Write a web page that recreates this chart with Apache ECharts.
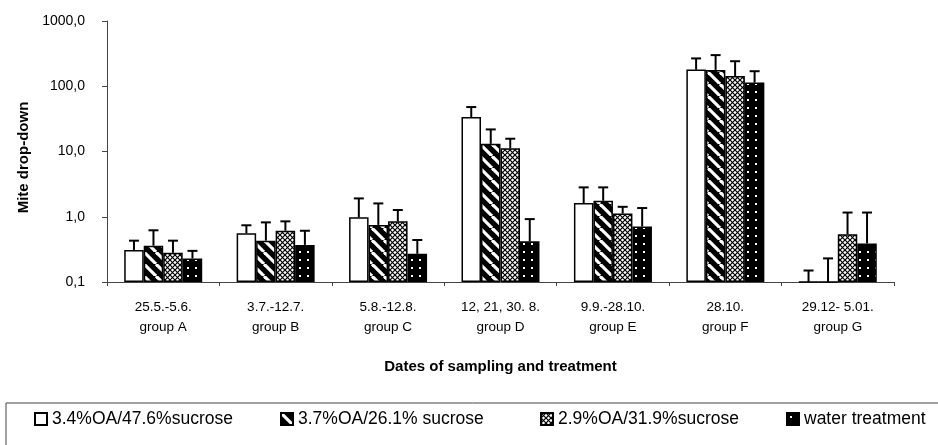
<!DOCTYPE html>
<html>
<head>
<meta charset="utf-8">
<script src="https://cdn.jsdelivr.net/npm/echarts@6/dist/echarts.min.js"></script>
<style>
html, body { margin: 0; padding: 0; background: #fff; }
#chart { width: 938px; height: 445px; }
</style>
</head>
<body>
<div id="chart"></div>
<script>
//横坐标分类
var categories = ['25.5.-5.6.\ngroup A', '3.7.-12.7.\ngroup B', '5.8.-12.8.\ngroup C',
	'12, 21, 30. 8.\ngroup D', '9.9.-28.10.\ngroup E', '28.10.\ngroup F', '29.12- 5.01.\ngroup G'];
//图例名称
var seriesNames = ['3.4%OA/47.6%sucrose', '3.7%OA/26.1% sucrose', '2.9%OA/31.9%sucrose', 'water treatment'];
//柱高 (均值)
var oa34Values = [0.31, 0.56, 0.98, 33.7, 1.62, 180, 0.1];
var oa37Values = [0.36, 0.43, 0.75, 13.1, 1.76, 178, 0.1];
var oa29Values = [0.28, 0.61, 0.85, 11.2, 1.12, 143, 0.54];
var waterValues = [0.23, 0.37, 0.27, 0.42, 0.71, 114, 0.39];
//误差线上端
var oa34Upper = [0.43, 0.74, 1.91, 48, 2.82, 267, 0.15];
var oa37Upper = [0.62, 0.82, 1.60, 21.8, 2.82, 300, 0.23];
var oa29Upper = [0.43, 0.85, 1.27, 15.7, 1.42, 242, 1.16];
var waterUpper = [0.30, 0.61, 0.44, 0.92, 1.36, 170, 1.16];
//纵坐标刻度
var yTicks = [0.1, 1, 10, 100, 1000];

var BAR_W = 19.5;
var FONT = '"Liberation Sans", Arial, sans-serif';

//填充图案
function makeTile(size, draw) {
	var c = document.createElement('canvas');
	c.width = size;
	c.height = size;
	draw(c.getContext('2d'), size);
	return { image: c, repeat: 'repeat' };
}
var whiteFill = '#ffffff';
var stripeFill = makeTile(12, function(ctx, s) {
	ctx.fillStyle = '#000';
	ctx.fillRect(0, 0, s, s);
	ctx.strokeStyle = '#fff';
	ctx.lineWidth = 3.2;
	for (var k = -1; k <= 1; k++) {
		ctx.beginPath();
		ctx.moveTo(k * s, 0);
		ctx.lineTo(k * s + s, s);
		ctx.stroke();
	}
});
var checkFill = makeTile(5, function(ctx, s) {
	ctx.fillStyle = '#fff';
	ctx.fillRect(0, 0, s, s);
	ctx.strokeStyle = '#000';
	ctx.lineWidth = 1.2;
	for (var k = -1; k <= 1; k++) {
		ctx.beginPath();
		ctx.moveTo(k * s, 0);
		ctx.lineTo(k * s + s, s);
		ctx.moveTo(k * s + s, 0);
		ctx.lineTo(k * s, s);
		ctx.stroke();
	}
});
var dotFill = makeTile(8, function(ctx, s) {
	ctx.fillStyle = '#000';
	ctx.fillRect(0, 0, s, s);
	ctx.fillStyle = '#fff';
	ctx.fillRect(3, 3, 2, 2);
});

var valueLists = [oa34Values, oa37Values, oa29Values, waterValues];
var upperLists = [oa34Upper, oa37Upper, oa29Upper, waterUpper];
var fills = [whiteFill, stripeFill, checkFill, dotFill];

//误差线数据: [分类, 均值, 上端, 系列序号]
var errData = [];
for (var s = 0; s < valueLists.length; s++) {
	for (var i = 0; i < categories.length; i++) {
		errData.push([i, valueLists[s][i], upperLists[s][i], s]);
	}
}

var chart = echarts.init(document.getElementById('chart'), null, { renderer: 'canvas' });

var series = [];
for (var s = 0; s < seriesNames.length; s++) {
	series.push({
		name: seriesNames[s],
		type: 'bar',
		data: valueLists[s],
		barWidth: BAR_W,
		barGap: '0%',
		itemStyle: {
			color: fills[s],
			borderColor: '#000',
			borderWidth: 1.5
		},
		z: 2
	});
}
series.push({
	name: 'error',
	type: 'custom',
	data: errData,
	encode: { x: 0, y: [1, 2] },
	z: 5,
	renderItem: function(params, api) {
		var cat = api.value(0);
		var base = api.coord([cat, api.value(1)]);
		var top = api.coord([cat, api.value(2)]);
		var x = base[0] + (api.value(3) - 1.5) * BAR_W;
		var st = { stroke: '#000', lineWidth: 2 };
		return {
			type: 'group',
			children: [
				{ type: 'line', shape: { x1: x, y1: base[1], x2: x, y2: top[1] }, style: st },
				{ type: 'line', shape: { x1: x - 5, y1: top[1], x2: x + 5, y2: top[1] }, style: st }
			]
		};
	}
});

//图例 (各自定位)
var legendLeft = [29, 275, 535, 781];
var legends = [];
for (var s = 0; s < seriesNames.length; s++) {
	legends.push({
		data: [seriesNames[s]],
		left: legendLeft[s],
		top: 405,
		icon: 'rect',
		itemWidth: 12,
		itemHeight: 12,
		selectedMode: false,
		textStyle: { fontFamily: FONT, fontSize: 17.5, color: '#000' }
	});
}

var option = {
	animation: false,
	backgroundColor: '#fff',
	grid: { left: 107, right: 44, top: 21, bottom: 163 },
	legend: legends,
	xAxis: {
		type: 'category',
		data: categories,
		name: 'Dates of sampling and treatment',
		nameLocation: 'middle',
		nameGap: 77,
		nameTextStyle: { fontFamily: FONT, fontSize: 15, fontWeight: 'bold', color: '#000' },
		axisLine: { lineStyle: { color: '#444', width: 1 } },
		axisTick: { show: true, length: 4, lineStyle: { color: '#444' } },
		axisLabel: { fontFamily: FONT, fontSize: 13.5, color: '#000', lineHeight: 20, margin: 15 }
	},
	yAxis: {
		type: 'log',
		logBase: 10,
		min: yTicks[0],
		max: yTicks[yTicks.length - 1],
		startValue: yTicks[0],
		name: 'Mite drop-down',
		nameLocation: 'middle',
		nameRotate: 90,
		nameGap: 72,
		nameTextStyle: { fontFamily: FONT, fontSize: 15, fontWeight: 'bold', color: '#000', padding: [0, 12, 0, 0] },
		axisLine: { show: true, lineStyle: { color: '#444', width: 1 } },
		axisTick: { show: true, length: 5, lineStyle: { color: '#444' } },
		splitLine: { show: false },
		axisLabel: {
			fontFamily: FONT, fontSize: 14, color: '#000', margin: 22,
			formatter: function(v) { return v.toFixed(1).replace('.', ','); }
		}
	},
	graphic: [{
		type: 'rect',
		shape: { x: 6, y: 403, width: 960, height: 80 },
		style: { fill: null, stroke: '#444', lineWidth: 1 },
		silent: true
	}],
	series: series
};

chart.setOption(option);
</script>
</body>
</html>
